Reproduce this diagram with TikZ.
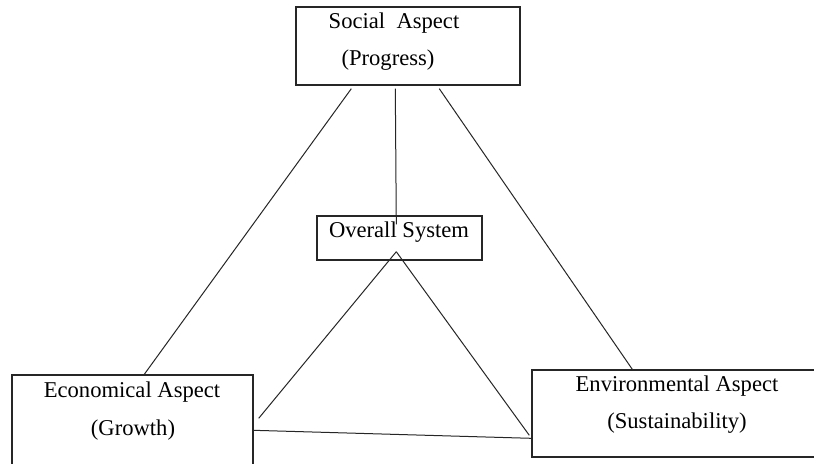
\documentclass[tikz,border=0pt]{standalone}
\usepackage{fontspec}
\setmainfont{Liberation Serif}
\usetikzlibrary{calc,fit}
\tikzset{
	aspectbox/.style={draw=black!85, line width=0.7pt, inner sep=0pt, rectangle},
	aspecttext/.style={anchor=base, inner sep=0pt, font=\fontsize{11.3}{13}\selectfont},
	link/.style={line width=0.5pt, draw=black!85}
}

\begin{document}
\begin{tikzpicture}[x=0.5pt, y=-0.5pt]
			%%%%% START %%%%%
			
			\useasboundingbox (0, 0) rectangle (814, 463);
			\clip (0, 0) rectangle (814, 463);
			\fill[white] (0, 0) rectangle (814, 463);
			
			\node[aspectbox, fit={(296, 7) (520, 85)}] (soc) {};
			\node[aspecttext] (socA) at (394, 28) {Social\ \ Aspect};
			\node[aspecttext] (socB) at (388, 65) {(Progress)};
			
			\node[aspectbox, fit={(317, 216) (482, 260)}] (ovr) {};
			\node[aspecttext] (ovrA) at (399, 237) {Overall System};
			
			\node[aspectbox, fit={(12, 375) (253, 480)}] (eco) {};
			\node[aspecttext] (ecoA) at (132, 397) {Economical Aspect};
			\node[aspecttext] (ecoB) at (133, 435) {(Growth)};
			
			\node[aspectbox, fit={(532, 370) (830, 457)}] (env) {};
			\node[aspecttext] (envA) at (677, 391) {Environmental Aspect};
			\node[aspecttext] (envB) at (677, 428) {(Sustainability)};
			
			\coordinate (apex) at ($(ovr.south west)+(80, -9)$);
			
			\draw[link] ($(soc.south west)+(56, 3)$) -- ($(eco.north west)+(133, 0)$);
			\draw[link] ($(soc.south west)+(100, 3)$) -- ($(ovr.north west)+(80, 9)$);
			\draw[link] ($(soc.south west)+(144, 3)$) -- ($(env.north west)+(101, 0)$);
			
			\draw[link] (apex) -- ($(eco.north east)+(5, 44)$);
			\draw[link] (apex) -- ($(env.north west)+(-2, 66)$);
			\draw[link] ($(eco.north east)+(0, 56)$) -- ($(env.north west)+(0, 69)$);
			
			%%%%% END %%%%%
		\end{tikzpicture}
\end{document}
